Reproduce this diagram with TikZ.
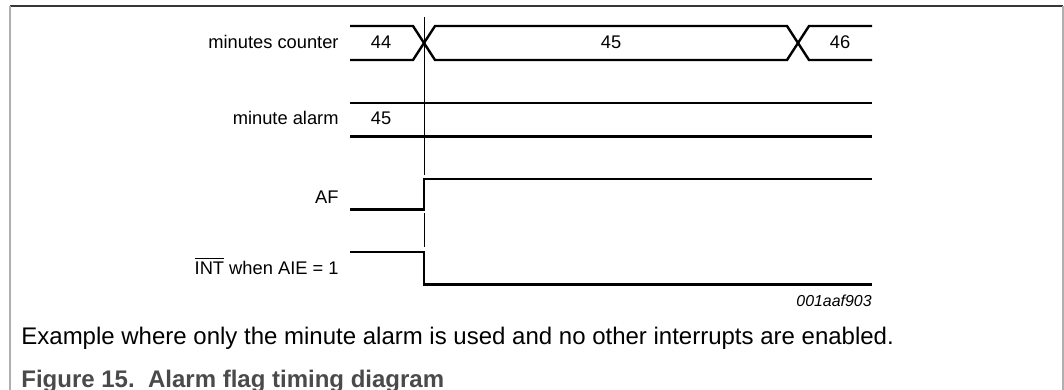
\documentclass[tikz,border=0pt]{standalone}
\usepackage{fontspec}
\setmainfont{Liberation Sans}
\usetikzlibrary{positioning, calc}
\definecolor{figgray}{RGB}{74,74,74}
\definecolor{framedark}{RGB}{55,55,55}
\definecolor{framelight}{RGB}{175,175,175}
\tikzstyle{sig} = [line width=1.2pt, line join=miter]
\tikzstyle{marker} = [line width=0.5pt]
\tikzstyle{lbl} = [inner sep=0pt, text height=0.72em, text depth=0.2em, font=\fontsize{9.15}{11}\selectfont]
\tikzstyle{val} = [inner sep=0pt, font=\fontsize{9.15}{11}\selectfont]
\tikzstyle{frametop} = [framedark, line width=0.7pt]
\tikzstyle{frameside} = [framelight, line width=1pt]

\begin{document}
\begin{tikzpicture}[x=0.5pt, y=-0.5pt]
\useasboundingbox (0,0) rectangle (1064,390);

% Frame
\draw [frametop] (10,6) -- (1063,6);
\draw [frameside] (10,6) -- (10,390);
\draw [frameside] (1063,6) -- (1063,390);

% Row starts
\coordinate (cnt) at (350,43);
\coordinate (alm) at (350,119.5);
\coordinate (af) at (350,198.5);
\coordinate (intr) at (350,269);

% Signal names
\node (cnt_lbl) [lbl, left=5.5pt of cnt] {minutes counter};
\node (alm_lbl) [lbl, left=5.5pt of alm] {minute alarm};
\node (af_lbl) [lbl, left=5.5pt of af] {AF};
\node (intr_lbl) [lbl, left=5.5pt of intr] {$\overline{\mbox{INT}}$ when AIE = 1};

% minutes counter bus
\draw [sig] (350,26) -- (413,26) -- (435,60) -- (787,60) -- (809,26) -- (872,26);
\draw [sig] (350,60) -- (413,60) -- (435,26) -- (787,26) -- (809,60) -- (872,60);
\node (c44) [val] at (381,42) {44};
\node (c45) [val] at (611,42) {45};
\node (c46) [val] at (840,42) {46};

% minute alarm bus
\draw [sig] (350,103) -- (872,103);
\draw [sig] (350,136.5) -- (872,136.5);
\node (a45) [val] at (381,118.5) {45};

% AF
\draw [sig] (350,209.5) -- (424,209.5) -- (424,179) -- (872,179);

% INT
\draw [sig] (350,252) -- (424,252) -- (424,284.5) -- (872,284.5);

% Time marker
\draw [marker] (424,17) -- (424,175);
\draw [marker] (424,213) -- (424,247);

% Captions
\node (code) [anchor=base east, inner sep=0pt, font=\fontsize{7.95}{9}\selectfont\itshape] at (872,306.5) {001aaf903};
\node (note) [anchor=base west, inner sep=0pt, font=\fontsize{12}{14}\selectfont] at (21,344) {Example where only the minute alarm is used and no other interrupts are enabled.};
\node (title) [anchor=base west, inner sep=0pt, text=figgray, font=\fontsize{12}{14}\selectfont\bfseries] at (21,387) {Figure 15.\ \ Alarm flag timing diagram};

\end{tikzpicture}
\end{document}
